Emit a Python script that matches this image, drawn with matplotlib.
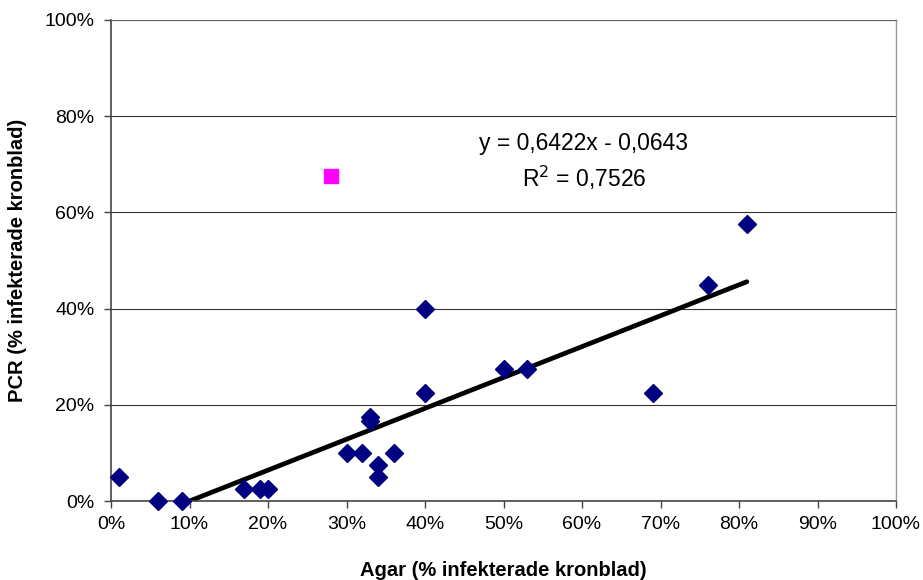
import matplotlib
matplotlib.use("Agg")
import matplotlib.pyplot as plt
from matplotlib.ticker import PercentFormatter, MultipleLocator

plt.rcParams['font.family'] = ['Liberation Sans', 'DejaVu Sans']

# Agar vs PCR, fraction of infected petals
agar = [0.01, 0.06, 0.09, 0.17, 0.19, 0.20, 0.30, 0.32, 0.33, 0.33, 0.34, 0.34,
        0.36, 0.40, 0.40, 0.50, 0.53, 0.69, 0.76, 0.81]
pcr = [0.05, 0.0, 0.0, 0.025, 0.025, 0.025, 0.10, 0.10, 0.175, 0.167, 0.075, 0.05,
       0.10, 0.40, 0.225, 0.275, 0.275, 0.225, 0.45, 0.575]

outlier_agar = [0.28]
outlier_pcr = [0.675]

slope = 0.6422
intercept = -0.0643

fig = plt.figure(figsize=(9.23, 5.80), dpi=100)
ax = fig.add_axes([111 / 923, 79 / 580, 785 / 923, 481 / 580])

x_fit = [min(agar), max(agar)]
y_fit = [slope * v + intercept for v in x_fit]
ax.plot(x_fit, y_fit, color='black', lw=3.4, solid_capstyle='round', zorder=2)

ax.plot(agar, pcr, 'D', color='#000080', ms=9.5, mec='#000080', zorder=3, clip_on=False)
ax.plot(outlier_agar, outlier_pcr, 's', color='#ff00ff', ms=10.5, zorder=3)

ax.set_xlim(0, 1)
ax.set_ylim(0, 1)
ax.xaxis.set_major_locator(MultipleLocator(0.1))
ax.yaxis.set_major_locator(MultipleLocator(0.2))
ax.xaxis.set_major_formatter(PercentFormatter(1.0, decimals=0))
ax.yaxis.set_major_formatter(PercentFormatter(1.0, decimals=0))
ax.grid(axis='y', color='#333333', lw=0.8)
ax.set_axisbelow(True)

ax.tick_params(direction='out', length=5, width=1, colors='#444444', labelcolor='black',
               labelsize=14)
ax.tick_params(axis='x', pad=6)
ax.tick_params(axis='y', pad=7)

for side in ['left', 'bottom']:
    ax.spines[side].set_color('#444444')
    ax.spines[side].set_linewidth(1.2)
ax.spines['top'].set_color('#666666')
ax.spines['top'].set_linewidth(0.8)
ax.spines['right'].set_color('#999999')
ax.spines['right'].set_linewidth(1.0)

ax.set_xlabel('Agar (% infekterade kronblad)', fontsize=14.5, fontweight='bold', va='center')
ax.set_ylabel('PCR (% infekterade kronblad)', fontsize=14.5, fontweight='bold', va='center')
ax.xaxis.set_label_coords(0.5, -(570 - 501) / 481)
ax.yaxis.set_label_coords((18 - 111) / 785, 0.5)

ax.text(0.6025, 0.744, 'y = 0,6422x - 0,0643', fontsize=16.5, ha='center', va='center')
ax.text(0.6025, 0.671, 'R$^2$ = 0,7526', fontsize=16.5, ha='center', va='center')

fig.savefig('out.png', dpi=100)
